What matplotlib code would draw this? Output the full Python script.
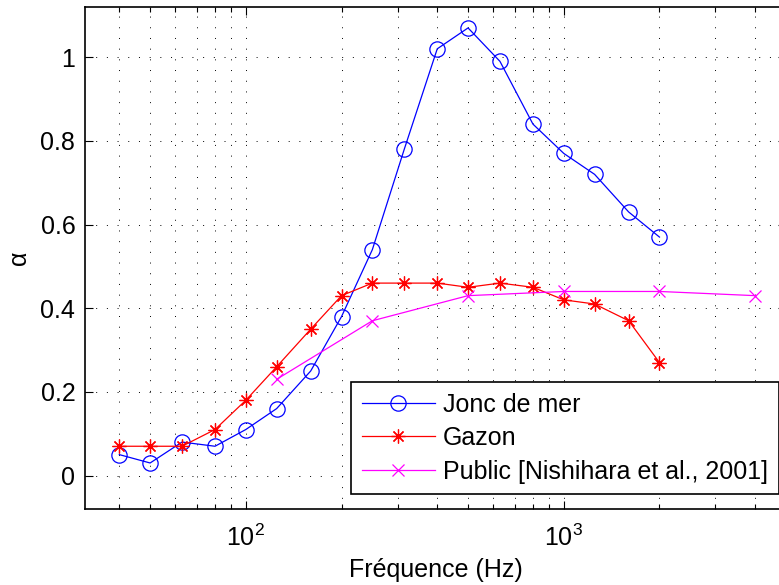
# -*- encoding: utf-8 -*-
"""
Absorption coefficient vs frequency (third-octave bands), MATLAB-like look.
"""
import matplotlib
matplotlib.use('Agg')
import matplotlib.pyplot as plt
from matplotlib.ticker import LogLocator, NullFormatter

plt.rcParams['font.family'] = ['Liberation Sans', 'DejaVu Sans']

# third-octave bands
freq = [40, 50, 63, 80, 100, 125, 160, 200, 250, 315, 400, 500,
        630, 800, 1000, 1250, 1600, 2000]
jonc = [0.05, 0.03, 0.08, 0.07, 0.11, 0.16, 0.25, 0.38, 0.54, 0.78, 1.02,
        1.07, 0.99, 0.84, 0.77, 0.72, 0.63, 0.57]
gazon = [0.07, 0.07, 0.07, 0.11, 0.18, 0.26, 0.35, 0.43, 0.46, 0.46, 0.46,
         0.45, 0.46, 0.45, 0.42, 0.41, 0.37, 0.27]
# octave bands
freq_pub = [125, 250, 500, 1000, 2000, 4000]
public = [0.23, 0.37, 0.43, 0.44, 0.44, 0.43]

labels = ['Jonc de mer', 'Gazon', 'Public [Nishihara et al., 2001]']

W, H = 779, 585
fs = 18
fig = plt.figure(figsize=(W / 100.0, H / 100.0), dpi=100)
ax = fig.add_axes([85.0 / W, (H - 509.0) / H, (786.0 - 85.0) / W, (509.0 - 7.0) / H])

ax.semilogx(freq, jonc, 'b-', marker='o', ms=11, mfc='none', mew=0.9, lw=0.9, label=labels[0])
ax.semilogx(freq, gazon, 'r-', marker=(8, 2, 0), ms=10, mew=0.9, lw=0.9, label=labels[1])
ax.semilogx(freq_pub, public, '-', color='#ff00ff', marker='x', ms=8.5, mew=0.9, lw=0.9, label=labels[2])

ax.set_xlim(31.2, 5000)
ax.set_ylim(-0.08, 1.12)
ax.set_yticks([0, 0.2, 0.4, 0.6, 0.8, 1.0])
ax.set_yticklabels(['0', '0.2', '0.4', '0.6', '0.8', '1'])
ax.xaxis.set_major_locator(LogLocator(base=10, numticks=10))
ax.xaxis.set_minor_locator(LogLocator(base=10, subs=range(2, 10), numticks=20))
ax.xaxis.set_minor_formatter(NullFormatter())

# dotted grid, MATLAB style
gs = dict(color='k', lw=0.7, linestyle=(0, (1, 10)))
ax.grid(True, which='major', axis='both', **gs)
ax.grid(True, which='minor', axis='x', **gs)

ax.tick_params(which='both', direction='in', top=True, right=True, labelsize=fs, width=0.8)
ax.tick_params(which='major', length=6)
ax.tick_params(which='minor', length=3.5)
ax.tick_params(axis='x', pad=11)
ax.tick_params(axis='y', pad=7)
for s in ax.spines.values():
    s.set_linewidth(1.2)

ax.set_xlabel(u'Fréquence (Hz)', fontsize=fs, labelpad=5)
ax.set_ylabel(u'α', fontsize=fs, labelpad=7)

leg = ax.legend(loc='upper left', bbox_to_anchor=(351.0 / W, 1 - 382.0 / H),
                bbox_transform=fig.transFigure, fontsize=fs, fancybox=False,
                framealpha=1, edgecolor='k', borderpad=0.42, handlelength=2.95,
                handletextpad=0.32, labelspacing=0.38, borderaxespad=0)
leg.get_frame().set_linewidth(1.2)

fig.savefig('out.png', dpi=100)
